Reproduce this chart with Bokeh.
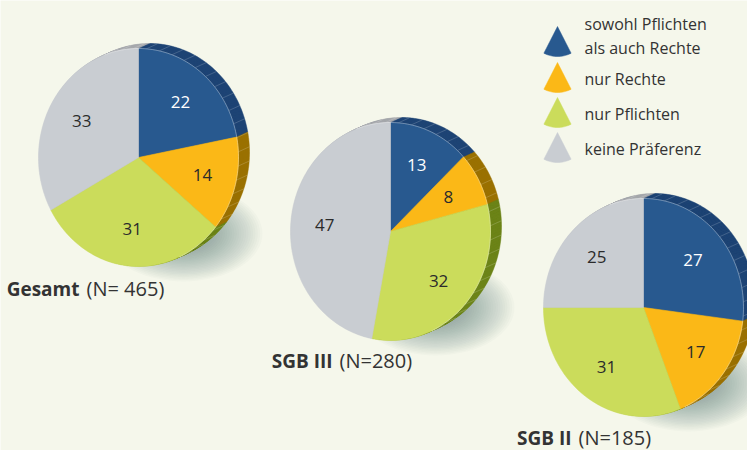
import numpy as np
from bokeh.plotting import figure
from bokeh.models import Range1d
from bokeh.embed import file_html
from bokeh.resources import INLINE
from bokeh.core.properties import value

# ---------------- data ----------------
categories = ["sowohl Pflichten als auch Rechte", "nur Rechte", "nur Pflichten", "keine Präferenz"]
legend_lines = [["sowohl Pflichten", "als auch Rechte"], ["nur Rechte"], ["nur Pflichten"], ["keine Präferenz"]]
gesamt = [22, 14, 31, 33]
sgb3 = [13, 8, 32, 47]
sgb2 = [27, 17, 31, 25]
group_names = ["Gesamt", "SGB III", "SGB II"]
group_n = ["(N= 465)", "(N=280)", "(N=185)"]

# ---------------- style ----------------
face_colors = ["#28598f", "#fbb817", "#cbdc5b", "#c9cdd2"]
rim_colors = ["#1e4475", "#9a7100", "#6d8419", "#a6a9ad"]
label_colors = ["#ffffff", "#2b2b2b", "#2b2b2b", "#2b2b2b"]
bg = "#f5f7eb"
txt = "#333333"
FONT = "Open Sans"

W, H = 747, 450
p = figure(width=W, height=H, x_range=Range1d(0, W), y_range=Range1d(H, 0),
           output_backend="svg", toolbar_location=None, min_border=0,
           x_axis_location=None, y_axis_location=None,
           background_fill_color=bg, border_fill_color=bg, outline_line_color=None)
p.grid.visible = False

RX, RY = 100, 109          # face half-axes (px)
DX, DY = 11, -5            # extrusion offset (px)
NL = 12                    # extrusion layers
LR = 0.66                  # label radius factor

# layout: (values, centre x, centre y, title x regular part, title y)
pies = [(gesamt, 138, 157, 86, 288),
        (sgb3, 390, 231, 339, 360),
        (sgb2, 643, 307, 578, 437)]


def ell(cx, cy, th):
    return cx + RX * np.sin(th), cy - RY * np.cos(th)


def wedge_poly(cx, cy, t0, t1):
    n = max(int(np.degrees(t1 - t0) / 1.5) + 2, 3)
    th = np.linspace(t0, t1, n)
    xs, ys = ell(cx, cy, th)
    return [cx] + list(xs), [cy] + list(ys)


for vals, cx, cy, trx, ty in pies:
    tot = float(sum(vals))
    cum = np.concatenate([[0], np.cumsum(vals)]) / tot * 2 * np.pi

    # soft shadow
    n_sh = 24
    p.ellipse(x=[cx + 45] * n_sh, y=[cy + 76] * n_sh,
              width=list(np.linspace(158, 50, n_sh)), height=list(np.linspace(96, 30, n_sh)),
              fill_color="#5a6a74", fill_alpha=0.028, line_color=None)

    # extrusion (rim)
    xs_all, ys_all, cols = [], [], []
    for k in range(NL, 0, -1):
        f = k / NL
        for i in range(len(vals)):
            xs, ys = wedge_poly(cx + f * DX, cy + f * DY, cum[i], cum[i + 1])
            xs_all.append(xs); ys_all.append(ys); cols.append(rim_colors[i])
    p.patches(xs_all, ys_all, fill_color=cols, line_color=cols, line_width=0.5)

    # rim segment lines
    seg_th = np.radians(np.arange(-18, 156, 7.5))
    fx, fy = ell(cx, cy, seg_th)
    p.segment(x0=fx, y0=fy, x1=fx + DX, y1=fy + DY, line_color="#ffffff", line_alpha=0.22, line_width=0.8)

    # face
    xs_all, ys_all = [], []
    for i in range(len(vals)):
        xs, ys = wedge_poly(cx, cy, cum[i], cum[i + 1])
        xs_all.append(xs); ys_all.append(ys)
    p.patches(xs_all, ys_all, fill_color=face_colors, line_color=face_colors, line_width=0.6)

    # edge highlight
    hth = np.radians(np.linspace(-20, 156, 120))
    hx, hy = ell(cx, cy, hth)
    p.line(hx, hy, line_color="#ffffff", line_alpha=0.35, line_width=1)

    # value labels
    mid = (cum[:-1] + cum[1:]) / 2
    lx, ly = cx + LR * RX * np.sin(mid), cy - LR * RY * np.cos(mid)
    p.text(x=lx, y=ly, text=[str(v) for v in vals], text_color=label_colors,
           text_font=value(FONT), text_font_size="17px", text_align="center", text_baseline="middle")

# titles: bold part right-aligned just before the regular part
for (vals, cx, cy, trx, ty), nm, nn in zip(pies, group_names, group_n):
    p.text(x=[trx - 7], y=[ty], text=[nm], text_color=txt, text_font=value(FONT), text_font_size="19px",
           text_font_style="bold", text_align="right", text_baseline="middle")
    p.text(x=[trx], y=[ty], text=[nn], text_color=txt, text_font=value(FONT), text_font_size="20px",
           text_align="left", text_baseline="middle")

# legend
leg_apex_y = [26, 62, 97, 132]
leg_text_y = [[23, 47], [78], [113], [148]]
LX, LRAD, HALF = 557, 30, np.radians(27)
for i, (ay, lines, tys) in enumerate(zip(leg_apex_y, legend_lines, leg_text_y)):
    th = np.linspace(np.pi - HALF, np.pi + HALF, 30)
    xs = [LX] + list(LX + LRAD * np.sin(th))
    ys = [ay] + list(ay - LRAD * np.cos(th))
    p.patch(xs, ys, fill_color=face_colors[i], line_color=face_colors[i], line_width=0.5)
    p.text(x=[584] * len(lines), y=tys, text=lines, text_color=txt, text_font=value(FONT),
           text_font_size="16px", text_align="left", text_baseline="middle")

open("out.html", "w").write(file_html(p, INLINE))
